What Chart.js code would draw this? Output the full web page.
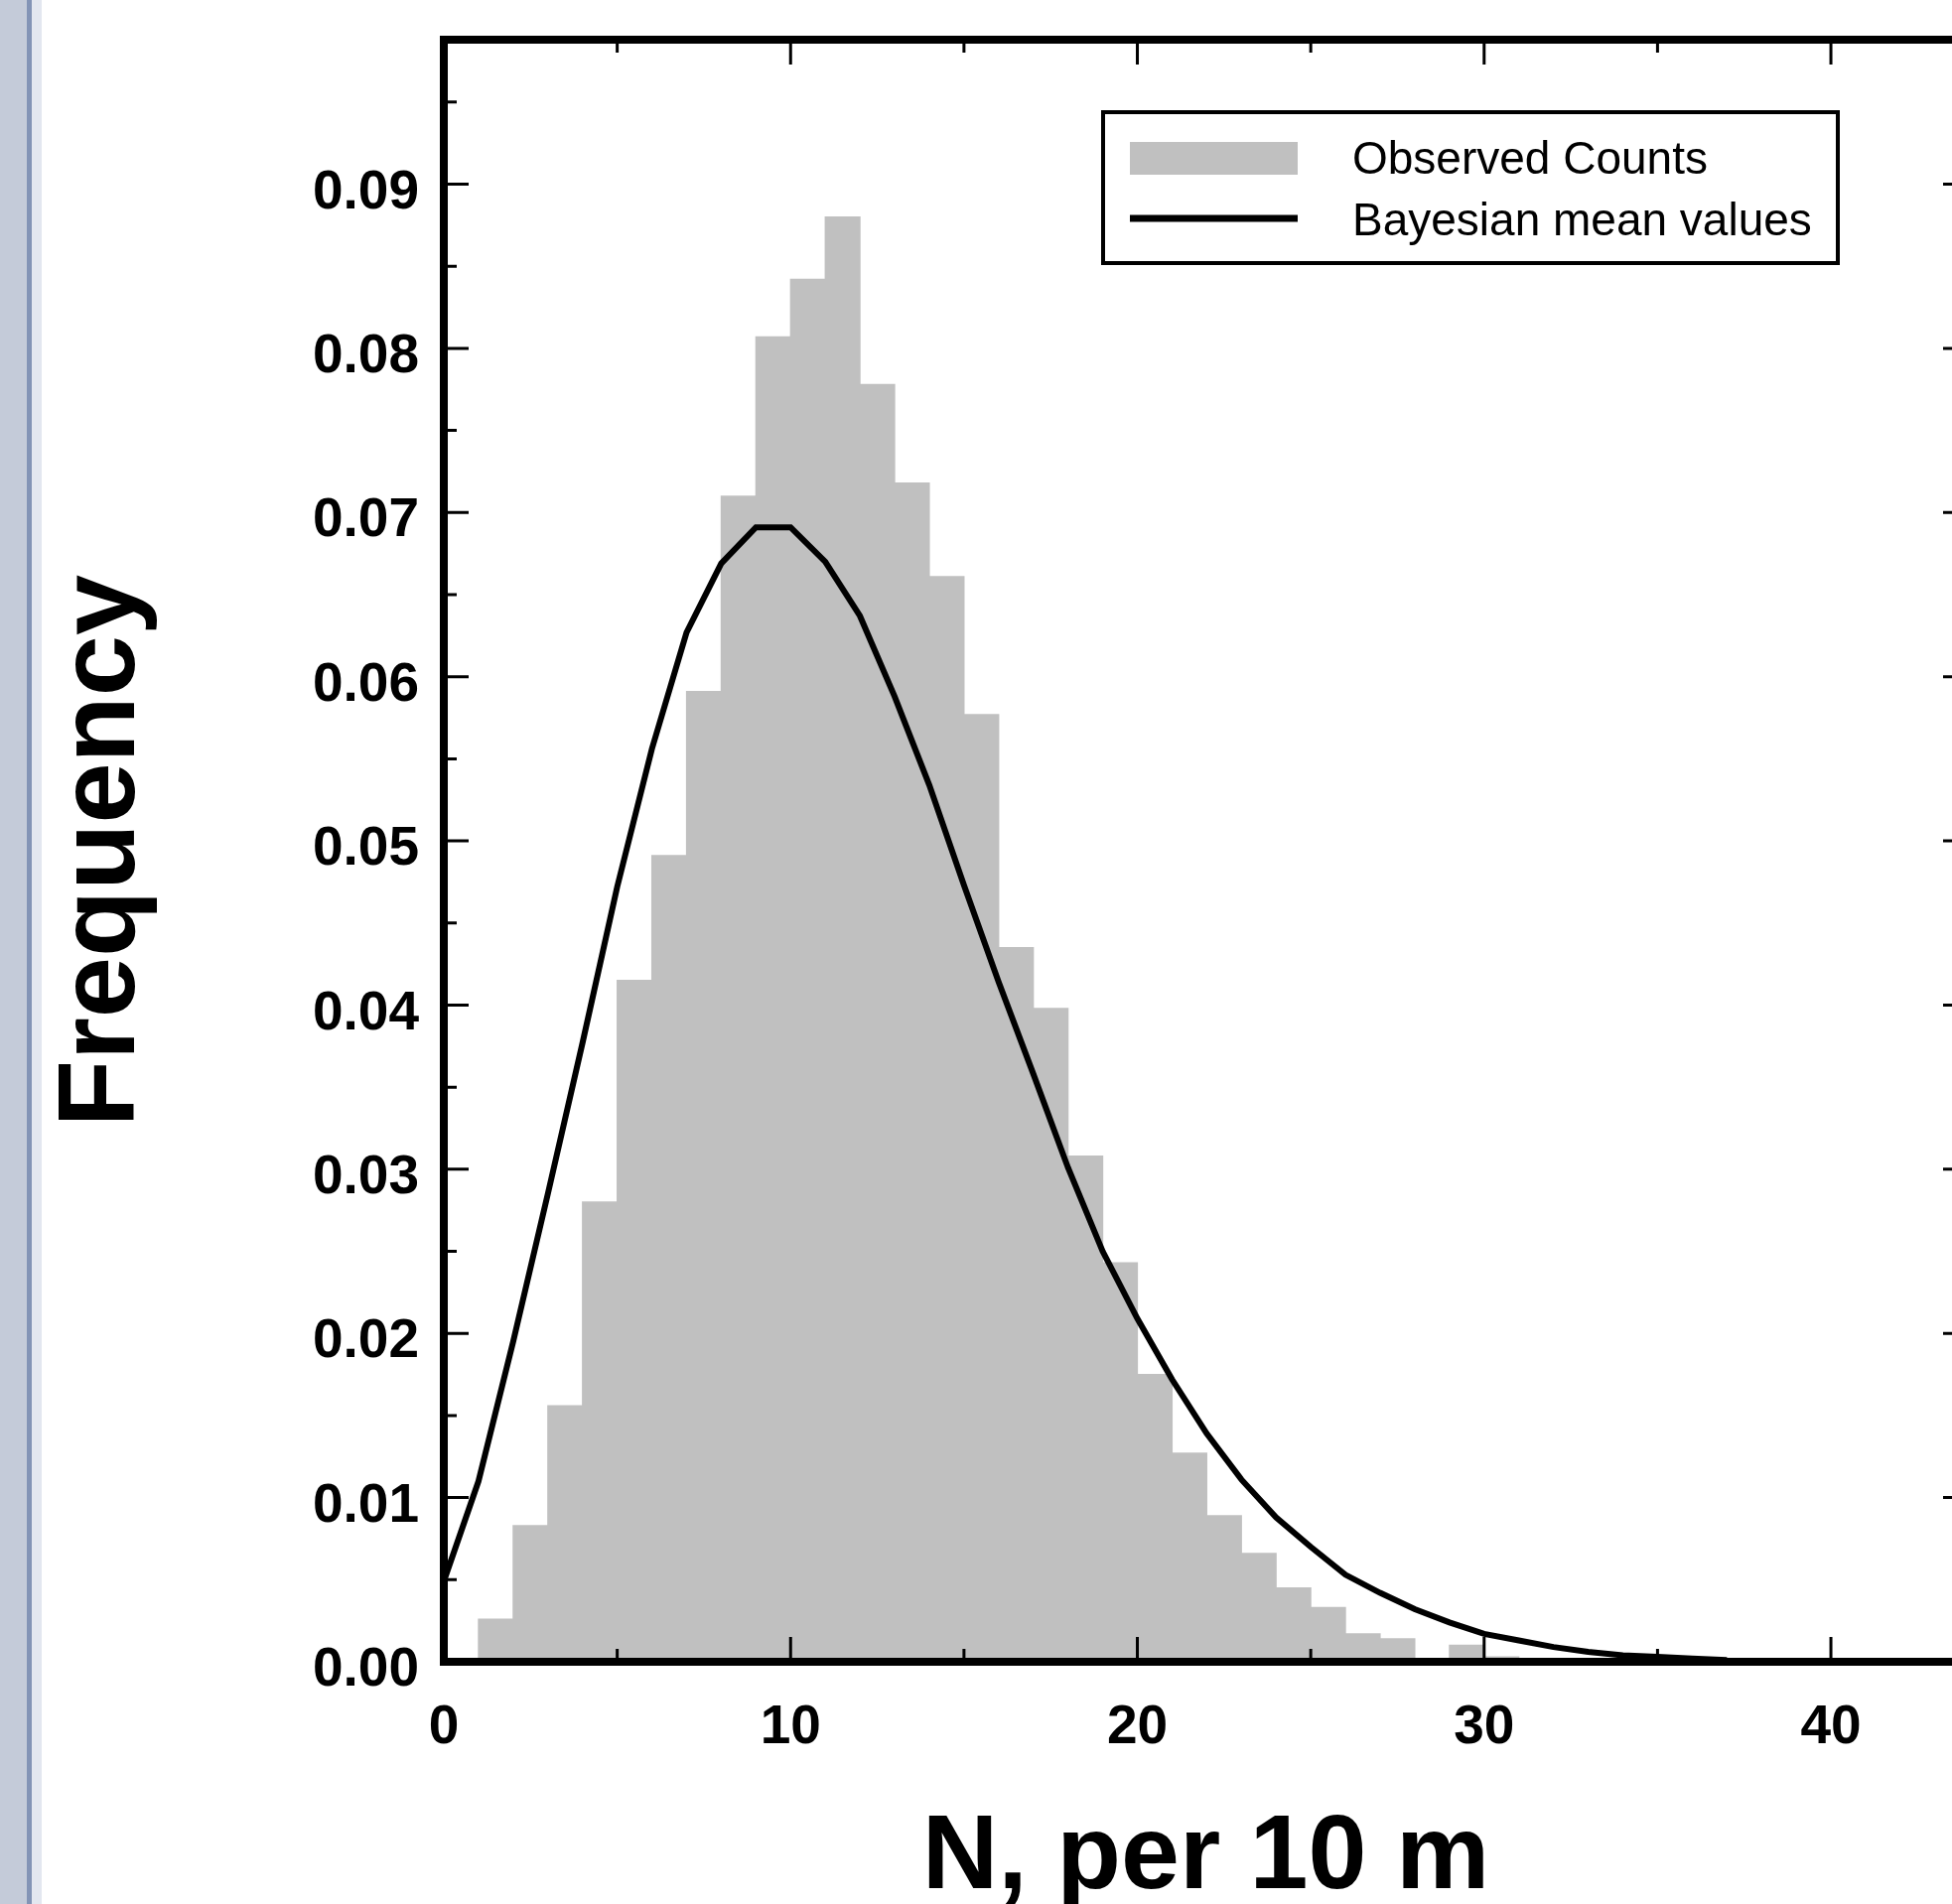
<!DOCTYPE html>
<html><head><meta charset="utf-8">
<script src="https://cdn.jsdelivr.net/npm/chart.js@4.4.1/dist/chart.umd.min.js"></script>
<style>
html,body{margin:0;padding:0;width:1966px;height:1918px;overflow:hidden;background:#fff;}
#strip{position:absolute;left:0;top:0;width:42px;height:1918px;background:linear-gradient(to right,#c4cbd9 0,#c4cbd9 27px,#8394b6 27px,#8394b6 32px,#e3e7f0 32px,#e3e7f0 42px);}
#c{position:absolute;left:0;top:0;}
</style></head><body>
<div id="strip"></div>
<canvas id="c" width="2000" height="1918"></canvas>
<script>
// ---- data ----
const binCenters = [1.5,2.5,3.5,4.5,5.5,6.5,7.5,8.5,9.5,10.5,11.5,12.5,13.5,14.5,15.5,16.5,17.5,18.5,19.5,20.5,21.5,22.5,23.5,24.5,25.5,26.5,27.5,28.5,29.5,30.5];
const observedFreq = [0.0026,0.0083,0.0156,0.0280,0.0415,0.0491,0.0591,0.0710,0.0807,0.0842,0.0880,0.0778,0.0718,0.0661,0.0577,0.0435,0.0398,0.0308,0.0243,0.0175,0.0127,0.0089,0.0066,0.0045,0.0033,0.0017,0.0014,0.0002,0.0010,0.0003];
const curveX = [0,1,2,3,4,5,6,7,8,9,10,11,12,13,14,15,16,17,18,19,20,21,22,23,24,25,26,27,28,29,30,31,32,33,34,35,36,37];
const bayesMean = [0.0049,0.0110,0.0195,0.0285,0.0377,0.0472,0.0556,0.0627,0.0669,0.0691,0.0691,0.0670,0.0637,0.0588,0.0534,0.0473,0.0414,0.0358,0.0301,0.0250,0.0209,0.0172,0.0139,0.0111,0.0088,0.0070,0.0053,0.0042,0.0032,0.0024,0.0017,0.0013,0.0009,0.0006,0.0004,0.0003,0.0002,0.0001];
const xTickValues = [0,10,20,30,40];
const xTickLabels = ['0','10','20','30','40'];
const xMinorTicks = [5,15,25,35];
const yTickValues = [0,0.01,0.02,0.03,0.04,0.05,0.06,0.07,0.08,0.09];
const yTickLabels = ['0.00','0.01','0.02','0.03','0.04','0.05','0.06','0.07','0.08','0.09'];
const yMinorTicks = [0.005,0.015,0.025,0.035,0.045,0.055,0.065,0.075,0.085,0.095];
const seriesLabels = ['Observed Counts','Bayesian mean values'];
const xTitle = 'N, per 10 m';
const yTitle = 'Frequency';

const FONT = '"Liberation Sans", Arial, Helvetica, sans-serif';

const framePlugin = {
  id:'frame',
  afterDraw(chart){
    const {ctx, chartArea:a, scales:{x, y}} = chart;
    ctx.save();
    ctx.strokeStyle = '#000';
    ctx.lineWidth = 3;
    const major = 25, minor = 13;
    ctx.beginPath();
    const vx = (v, len) => { const p = x.getPixelForValue(v); ctx.moveTo(p, a.bottom); ctx.lineTo(p, a.bottom - len); ctx.moveTo(p, a.top); ctx.lineTo(p, a.top + len); };
    const vy = (v, len) => { const p = y.getPixelForValue(v); ctx.moveTo(a.left, p); ctx.lineTo(a.left + len, p); ctx.moveTo(a.right, p); ctx.lineTo(a.right - len, p); };
    xTickValues.forEach(v => vx(v, major));
    xMinorTicks.forEach(v => vx(v, minor));
    yTickValues.forEach(v => vy(v, major));
    yMinorTicks.forEach(v => vy(v, minor));
    ctx.stroke();
    ctx.lineWidth = 8;
    ctx.lineJoin = 'miter';
    ctx.strokeRect(a.left, a.top, a.right - a.left, a.bottom - a.top);
    ctx.restore();
  }
};

const legendPlugin = {
  id:'boxLegend',
  afterDraw(chart){
    const ctx = chart.ctx;
    const ds = chart.data.datasets;
    const bar = ds.find(d => d.type === 'bar');
    const line = ds.find(d => d.type === 'line');
    ctx.save();
    ctx.fillStyle = '#fff';
    ctx.fillRect(1111, 113, 740, 152);
    ctx.strokeStyle = '#000';
    ctx.lineWidth = 4;
    ctx.strokeRect(1111, 113, 740, 152);
    ctx.fillStyle = bar.backgroundColor;
    ctx.fillRect(1138, 143, 169, 33);
    ctx.strokeStyle = line.borderColor;
    ctx.lineWidth = 7;
    ctx.beginPath(); ctx.moveTo(1138, 220); ctx.lineTo(1307, 220); ctx.stroke();
    ctx.fillStyle = '#000';
    ctx.font = '46px ' + FONT;
    ctx.textBaseline = 'alphabetic';
    ctx.textAlign = 'left';
    ctx.fillText(bar.label, 1362, 175);
    ctx.fillText(line.label, 1362, 237);
    ctx.restore();
  }
};

new Chart(document.getElementById('c'), {
  type:'bar',
  data:{
    datasets:[
      {type:'line', label:seriesLabels[1], data:curveX.map((v,i)=>({x:v, y:bayesMean[i]})),
       borderColor:'#000', borderWidth:6, pointRadius:0, tension:0, fill:false, order:1},
      {type:'bar', label:seriesLabels[0], data:binCenters.map((v,i)=>({x:v, y:observedFreq[i]})),
       backgroundColor:'#c0c0c0', borderWidth:0, barPercentage:1, categoryPercentage:1, inflateAmount:0.6, order:2}
    ]
  },
  options:{
    responsive:false, animation:false, devicePixelRatio:1,
    layout:{padding:{left:0, top:40, right:18, bottom:0}},
    plugins:{legend:{display:false}, tooltip:{enabled:false}},
    scales:{
      x:{type:'linear', min:0, max:43.95, offset:false,
         grid:{display:false, drawTicks:false}, border:{display:false},
         afterBuildTicks:s=>{ s.ticks = xTickValues.map(v=>({value:v})); },
         afterFit:s=>{ s.height = 1918 - 1674; s.paddingLeft = 0; s.paddingRight = 0; },
         ticks:{padding:34, autoSkip:false, maxRotation:0, color:'#000',
                font:{family:FONT, size:55, weight:'bold', lineHeight:1.2},
                callback:(v,i)=>xTickLabels[i]},
         title:{display:true, text:xTitle, color:'#000', padding:{top:0, bottom:3},
                font:{family:FONT, size:106, weight:'bold', lineHeight:0.8}}
      },
      y:{type:'linear', min:0, max:0.0988,
         grid:{display:false, drawTicks:false}, border:{display:false},
         afterBuildTicks:s=>{ s.ticks = yTickValues.map(v=>({value:v})); },
         afterFit:s=>{ s.width = 447; s.paddingTop = 0; s.paddingBottom = 0; },
         ticks:{padding:25, labelOffset:9, autoSkip:false, color:'#000',
                font:{family:FONT, size:55, weight:'bold', lineHeight:1.2},
                callback:(v,i)=>yTickLabels[i]},
         title:{display:true, text:yTitle, color:'#000', padding:{top:50, bottom:0},
                font:{family:FONT, size:110, weight:'bold', lineHeight:1}}
      }
    }
  },
  plugins:[framePlugin, legendPlugin]
});
</script>
</body></html>
